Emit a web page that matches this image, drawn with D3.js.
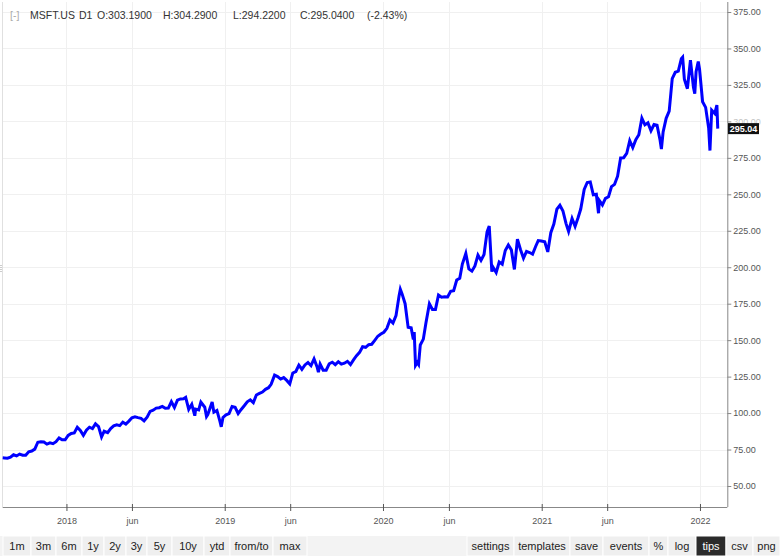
<!DOCTYPE html>
<html><head><meta charset="utf-8">
<script src="https://cdn.jsdelivr.net/npm/d3@7"></script>
<style>
body{margin:0;background:#fff;}
svg{display:block;font-family:"Liberation Sans",Arial,sans-serif;}
</style>
</head><body>
<svg id="c" width="780" height="556"></svg>
<script>
// ---- data (dividend-adjusted MSFT) ----
const dates = [
"2017-08-07","2017-08-11","2017-08-18","2017-08-25","2017-09-01","2017-09-08","2017-09-15","2017-09-22","2017-09-29","2017-10-06","2017-10-13","2017-10-20","2017-10-27","2017-11-03","2017-11-10","2017-11-17","2017-11-24","2017-12-01","2017-12-08","2017-12-15","2017-12-22","2017-12-29",
"2018-01-05","2018-01-12","2018-01-19","2018-01-26","2018-02-02","2018-02-09","2018-02-16","2018-02-23","2018-03-02","2018-03-09","2018-03-16","2018-03-23","2018-03-29","2018-04-06","2018-04-13","2018-04-20","2018-04-27","2018-05-04","2018-05-11","2018-05-18","2018-05-25","2018-06-01","2018-06-08","2018-06-15","2018-06-22","2018-06-29","2018-07-06","2018-07-13","2018-07-20","2018-07-27","2018-08-03","2018-08-10","2018-08-17","2018-08-24","2018-08-31","2018-09-07","2018-09-14","2018-09-21","2018-09-28","2018-10-03","2018-10-10","2018-10-17","2018-10-24","2018-10-26","2018-11-02","2018-11-07","2018-11-16","2018-11-20","2018-11-23","2018-12-03","2018-12-07","2018-12-14","2018-12-21","2018-12-24","2018-12-28",
"2019-01-04","2019-01-11","2019-01-18","2019-01-25","2019-02-01","2019-02-08","2019-02-15","2019-02-22","2019-03-01","2019-03-08","2019-03-15","2019-03-22","2019-03-29","2019-04-05","2019-04-12","2019-04-18","2019-04-26","2019-05-03","2019-05-10","2019-05-17","2019-05-24","2019-05-31","2019-06-07","2019-06-14","2019-06-21","2019-06-28","2019-07-05","2019-07-12","2019-07-19","2019-07-26","2019-08-02","2019-08-05","2019-08-09","2019-08-16","2019-08-23","2019-08-30","2019-09-06","2019-09-13","2019-09-20","2019-09-27","2019-10-04","2019-10-11","2019-10-18","2019-10-25","2019-11-01","2019-11-08","2019-11-15","2019-11-22","2019-11-29","2019-12-06","2019-12-13","2019-12-20","2019-12-27",
"2020-01-03","2020-01-10","2020-01-17","2020-01-24","2020-01-31","2020-02-07","2020-02-10","2020-02-14","2020-02-21","2020-02-28","2020-03-06","2020-03-11","2020-03-13","2020-03-16","2020-03-20","2020-03-23","2020-03-27","2020-04-03","2020-04-09","2020-04-17","2020-04-24","2020-05-01","2020-05-08","2020-05-15","2020-05-22","2020-05-29","2020-06-05","2020-06-12","2020-06-19","2020-06-26","2020-07-02","2020-07-10","2020-07-17","2020-07-24","2020-07-31","2020-08-07","2020-08-14","2020-08-21","2020-08-28","2020-09-02","2020-09-08","2020-09-11","2020-09-18","2020-09-25","2020-10-02","2020-10-09","2020-10-16","2020-10-23","2020-10-30","2020-11-06","2020-11-13","2020-11-20","2020-11-27","2020-12-04","2020-12-11","2020-12-18","2020-12-24","2020-12-31",
"2021-01-08","2021-01-15","2021-01-22","2021-01-29","2021-02-05","2021-02-12","2021-02-19","2021-02-26","2021-03-04","2021-03-12","2021-03-19","2021-03-26","2021-04-01","2021-04-09","2021-04-16","2021-04-23","2021-04-30","2021-05-07","2021-05-12","2021-05-14","2021-05-21","2021-05-28","2021-06-04","2021-06-11","2021-06-18","2021-06-25","2021-07-02","2021-07-09","2021-07-16","2021-07-23","2021-07-30","2021-08-06","2021-08-13","2021-08-20","2021-08-27","2021-09-03","2021-09-10","2021-09-17","2021-09-24","2021-10-01","2021-10-04","2021-10-08","2021-10-15","2021-10-22","2021-10-29","2021-11-05","2021-11-12","2021-11-19","2021-11-22","2021-11-26","2021-12-03","2021-12-10","2021-12-17","2021-12-20","2021-12-23","2021-12-28","2021-12-31",
"2022-01-07","2022-01-14","2022-01-21","2022-01-24","2022-01-28","2022-02-04","2022-02-09","2022-02-11"
];
const closes = [
69.3,69.2,69.0,69.7,71.4,70.6,71.9,71.1,71.1,73.5,74.0,75.3,80.0,80.3,80.2,78.7,79.6,79.0,80.4,83.0,81.7,81.7,
84.7,86.0,86.4,90.3,88.1,84.7,88.3,90.3,89.4,92.6,90.8,83.7,87.6,86.6,89.4,91.2,92.0,91.4,93.8,92.5,94.5,96.8,97.5,96.9,96.4,94.7,97.2,101.2,102.0,103.4,103.7,104.6,103.3,103.4,107.8,103.9,108.9,109.7,109.8,110.8,102.5,106.0,98.2,102.7,102.2,107.5,104.0,97.6,99.0,107.6,100.6,101.8,94.3,90.6,97.0,
98.8,99.7,104.5,104.0,99.7,102.5,105.0,107.7,109.1,107.2,112.4,113.5,114.4,116.3,117.4,119.7,126.0,125.0,123.3,124.3,122.4,120.0,127.5,128.5,132.9,130.0,133.0,134.7,132.5,137.1,131.6,128.0,133.6,129.4,129.4,133.8,134.9,133.2,135.2,133.6,134.2,135.5,133.3,136.5,139.4,141.6,145.5,145.1,146.9,147.2,149.9,152.7,154.2,
155.4,158.1,163.8,161.7,166.8,180.2,184.9,181.7,175.0,158.8,158.4,150.5,155.6,132.7,134.7,133.3,146.7,150.7,161.8,175.0,171.1,171.1,181.0,179.5,179.8,179.6,183.5,183.9,191.2,192.4,202.2,209.4,198.8,197.3,200.9,208.3,204.7,208.7,224.3,228.2,197.0,199.9,196.4,203.6,202.1,211.5,215.3,211.9,198.5,219.2,212.2,206.2,210.9,210.1,209.0,214.2,218.3,218.0,
217.4,210.5,223.7,229.6,239.8,242.5,238.6,230.1,224.5,233.4,228.0,234.1,239.9,253.3,258.1,258.5,249.7,250.0,237.0,245.7,242.7,247.2,248.3,255.3,256.8,262.4,274.9,275.1,278.0,286.8,282.1,287.5,290.8,302.2,297.6,299.0,293.6,297.8,297.3,287.1,281.0,292.8,302.1,307.0,329.3,333.7,334.4,343.0,344.0,329.0,322.4,341.9,323.2,319.0,334.0,341.0,335.7,
313.5,309.6,295.5,280.0,307.7,305.4,311.2,295.04
];
const yTicks = [50,75,100,125,150,175,200,225,250,275,300,325,350,375];
const xTickDates = ["2018-01-01","2018-06-01","2019-01-01","2019-06-01","2020-01-01","2020-06-01","2021-01-01","2021-06-01","2022-01-01"];
const xTickLabels = ["2018","jun","2019","jun","2020","jun","2021","jun","2022"];
const lastPrice = 295.04;
const titleParts = ["[-]","MSFT.US","D1","O:303.1900","H:304.2900","L:294.2200","C:295.0400","(-2.43%)"];
const titleX = [10,30,79,97,163,233,300,367];
const leftButtons = ["1m","3m","6m","1y","2y","3y","5y","10y","ytd","from/to","max"];
const leftEdges = [3,31,56,82,104,126,147,172,204,230,273,307];
const rightButtons = ["settings","templates","save","events","%","log","tips","csv","png"];
const rightEdges = [467,514,570,603,649,668,696,726,753,780];

// ---- drawing ----
const svg = d3.select("#c");
const parse = d3.utcParse("%Y-%m-%d");
const data = dates.map((d,i)=>({date:parse(d), v:closes[i]}));

const L=2.7, R=727.3, T=2, B=507;
const x = d3.scaleUtc().domain([parse("2017-08-07"), parse("2022-03-05")]).range([L,R]);
const y = d3.scaleLinear().domain([50,375]).range([486,12]);

svg.append("rect").attr("width",780).attr("height",556).attr("fill","#fff");

// grid
const g = svg.append("g");
g.selectAll(".hg").data(yTicks).join("line")
  .attr("x1",L).attr("x2",R).attr("y1",d=>Math.round(y(d))+0.5).attr("y2",d=>Math.round(y(d))+0.5)
  .attr("stroke","#f0f0f0");
g.selectAll(".vg").data(xTickDates).join("line")
  .attr("x1",d=>Math.round(x(parse(d)))+0.5).attr("x2",d=>Math.round(x(parse(d)))+0.5)
  .attr("y1",T).attr("y2",B).attr("stroke","#f0f0f0");

// left border
svg.append("line").attr("x1",2.5).attr("x2",2.5).attr("y1",T).attr("y2",B).attr("stroke","#e0e0e0");
svg.append("line").attr("x1",1).attr("x2",1).attr("y1",265).attr("y2",272).attr("stroke","#999").attr("stroke-dasharray","1,1");

// price line
svg.append("path").datum(data)
  .attr("fill","none").attr("stroke","#0000ff").attr("stroke-width",3).attr("stroke-linejoin","miter")
  .attr("d", d3.line().x(d=>x(d.date)).y(d=>y(d.v)));

// right axis
const yAxis = d3.axisRight(y).tickValues(yTicks).tickSize(4).tickPadding(2).tickFormat(d3.format(".2f"));
const ya = svg.append("g").attr("transform",`translate(${R},0)`).call(yAxis);
ya.select(".domain").attr("stroke","#888").attr("d",`M0.5,${T}V${B}`);
ya.selectAll(".tick line").attr("stroke","#888");
ya.selectAll(".tick text").attr("fill","#555").attr("font-size",9).attr("font-family","Liberation Sans, Arial, sans-serif");

// bottom axis
const xAxis = d3.axisBottom(x).tickValues(xTickDates.map(parse)).tickSize(4).tickPadding(7)
  .tickFormat((d,i)=>xTickLabels[i]);
const xa = svg.append("g").attr("transform",`translate(0,${B})`).call(xAxis);
xa.select(".domain").attr("stroke","#888").attr("d",`M${L},0.5H${R}`);
xa.selectAll(".tick line").attr("stroke","#555").attr("y1",-3).attr("y2",4);
xa.selectAll(".tick text").attr("fill","#555").attr("font-size",9).attr("font-family","Liberation Sans, Arial, sans-serif");

// last price tag (covers the nearby tick label, as in the original)
const py = y(lastPrice);
ya.selectAll(".tick").filter(d=>Math.abs(y(d)-py)<8).select("text").attr("opacity",0.35);
svg.append("rect").attr("x",728).attr("y",py-5.5).attr("width",31).attr("height",11).attr("fill","#111");
svg.append("text").attr("x",743.5).attr("y",py+3.3).attr("text-anchor","middle")
  .attr("fill","#fff").attr("font-size",9).attr("font-weight","bold").text(d3.format(".2f")(lastPrice));

// title
const tt = svg.append("text").attr("y",19).attr("font-size",10.5).attr("fill","#333");
titleParts.forEach((t,i)=>{
  tt.append("tspan").attr("x",titleX[i]).attr("fill", i===0?"#aaa":"#333").text(t);
});

// toolbar
const tb = svg.append("g");
tb.append("rect").attr("x",0).attr("y",536).attr("width",780).attr("height",20).attr("fill","#f3f3f3");
function buttons(labels, edges){
  labels.forEach((lab,i)=>{
    const x0=edges[i], x1=edges[i+1];
    const sel = lab==="tips";
    tb.append("rect").attr("x",x0).attr("y",536).attr("width",x1-x0).attr("height",20)
      .attr("fill", sel?"#2b2b2b":"#efefef").attr("stroke","#fff").attr("stroke-width",1);
    tb.append("text").attr("x",(x0+x1)/2).attr("y",550).attr("text-anchor","middle")
      .attr("font-size",11).attr("fill", sel?"#fff":"#222").text(lab);
  });
}
buttons(leftButtons,leftEdges);
buttons(rightButtons,rightEdges);
</script>
</body></html>
